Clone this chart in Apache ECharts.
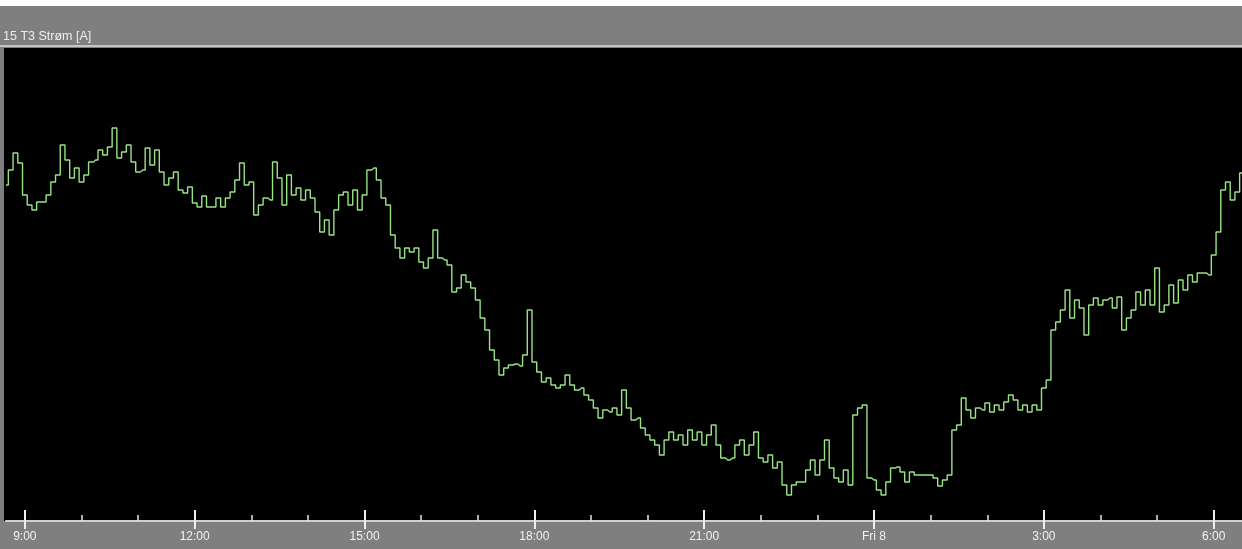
<!DOCTYPE html>
<html>
<head>
<meta charset="utf-8">
<style>
  html, body { margin: 0; padding: 0; background: #7f7f7f; }
  #chart { width: 1242px; height: 549px; }
</style>
<script src="https://cdn.jsdelivr.net/npm/echarts@6/dist/echarts.min.js"></script>
</head>
<body>
<div id="chart"></div>
<script>
// Title of the trend pane
const seriesTitle = '15 T3 Strøm [A]';

// Sample start (Thu 08:40) and spacing of the logged samples, in minutes
const startMinute = 8 * 60 + 40;
const stepMinutes = 5;

// Logged current, one value per 5-minute sample, 08:40 Thu -> 06:30 Fri
const currentA = [
  336,351,368,358,326,316,311,319,319,326,
  339,346,376,361,343,353,339,346,359,361,
  371,366,374,393,363,369,376,359,349,351,
  373,356,371,349,336,343,349,331,328,334,
  318,314,325,314,314,323,314,323,329,341,
  358,336,339,306,316,323,321,359,343,316,
  346,326,333,321,331,323,309,289,301,286,
  311,326,329,316,331,311,326,351,353,341,
  323,316,286,273,263,273,269,273,259,253,
  263,291,263,261,256,229,233,246,239,233,
  221,203,191,171,161,146,153,156,157,155,
  166,211,159,149,139,143,136,133,136,146,
  136,131,133,126,121,113,103,111,109,113,
  106,131,113,101,103,93,86,81,76,66,
  81,89,81,86,76,91,81,89,76,86,
  96,76,63,61,63,76,81,66,76,89,
  63,59,66,53,59,36,26,36,39,39,
  51,61,46,61,81,53,43,39,51,36,
  106,113,116,43,41,31,26,39,53,54,
  49,39,49,46,46,46,46,43,35,41,
  46,91,96,123,111,103,113,111,118,109,
  116,111,119,126,121,111,116,109,116,111,
  133,141,191,199,211,231,203,221,213,186,
  216,223,216,221,223,213,224,191,203,211,
  229,216,231,216,253,209,216,236,218,241,
  231,246,239,248,248,246,266,289,331,339,
  321,329,348
];

// Labels shown under the 3-hourly major ticks
const majorTickLabels = {
  '09:00': '9:00', '12:00': '12:00', '15:00': '15:00', '18:00': '18:00',
  '21:00': '21:00', '00:00': 'Fri 8', '03:00': '3:00', '06:00': '6:00'
};

// Value range of the hidden current axis
const currentMin = 0;
const currentMax = 473;

// Time-of-day category for every sample
const sampleTimes = currentA.map((_, i) => {
  const m = (startMinute + i * stepMinutes) % (24 * 60);
  const hh = String(Math.floor(m / 60)).padStart(2, '0');
  const mm = String(m % 60).padStart(2, '0');
  return hh + ':' + mm;
});

const isHour = (idx, val) => val.endsWith(':00');
const isMajor = (idx, val) => Object.prototype.hasOwnProperty.call(majorTickLabels, val);

const chart = echarts.init(document.getElementById('chart'), null, { renderer: 'canvas' });

const baseAxis = {
  type: 'category',
  data: sampleTimes,
  boundaryGap: false,
  position: 'bottom',
  axisLine: { show: false },
  axisLabel: { show: false },
  splitLine: { show: false }
};

chart.setOption({
  backgroundColor: '#7f7f7f',
  animation: false,
  grid: { left: 6, right: 0, top: 48, bottom: 28, containLabel: false },
  graphic: {
    elements: [
      { type: 'rect', z: -10, shape: { x: 0, y: 0, width: 1242, height: 6 }, style: { fill: '#ffffff' } },
      { type: 'rect', z: -10, shape: { x: 4, y: 48, width: 1238, height: 473 }, style: { fill: '#000000' } },
      { type: 'rect', z: -10, shape: { x: 0, y: 45, width: 1242, height: 2 }, style: { fill: '#c4c4c4' } },
      {
        type: 'text', z: 5, left: 3, top: 30,
        style: { text: seriesTitle, fill: '#ededed', font: '12.5px "Liberation Sans", Arial, sans-serif' }
      }
    ]
  },
  xAxis: [
    {
      ...baseAxis,
      axisLine: { show: true, lineStyle: { color: '#cfcfcf', width: 2 } },
      axisTick: { show: true, inside: true, length: 6, interval: isHour, lineStyle: { color: '#e6e6e6', width: 1.5 } },
      axisLabel: {
        show: true,
        interval: isMajor,
        margin: 10,
        color: '#f2f2f2',
        fontSize: 12,
        fontFamily: '"Liberation Sans", Arial, sans-serif',
        formatter: (val) => majorTickLabels[val] || ''
      }
    },
    {
      ...baseAxis,
      axisTick: { show: true, inside: true, length: 11, interval: isMajor, lineStyle: { color: '#f0f0f0', width: 2 } }
    },
    {
      ...baseAxis,
      axisTick: { show: true, inside: false, length: 8, interval: isMajor, lineStyle: { color: '#f0f0f0', width: 2 } }
    }
  ],
  yAxis: {
    type: 'value',
    min: currentMin,
    max: currentMax,
    show: false,
    splitLine: { show: false }
  },
  series: [{
    name: seriesTitle,
    type: 'line',
    xAxisIndex: 0,
    data: currentA,
    step: 'middle',
    showSymbol: false,
    symbol: 'none',
    lineStyle: { color: '#98e485', width: 1.4 },
    emphasis: { disabled: true }
  }]
});
</script>
</body>
</html>
